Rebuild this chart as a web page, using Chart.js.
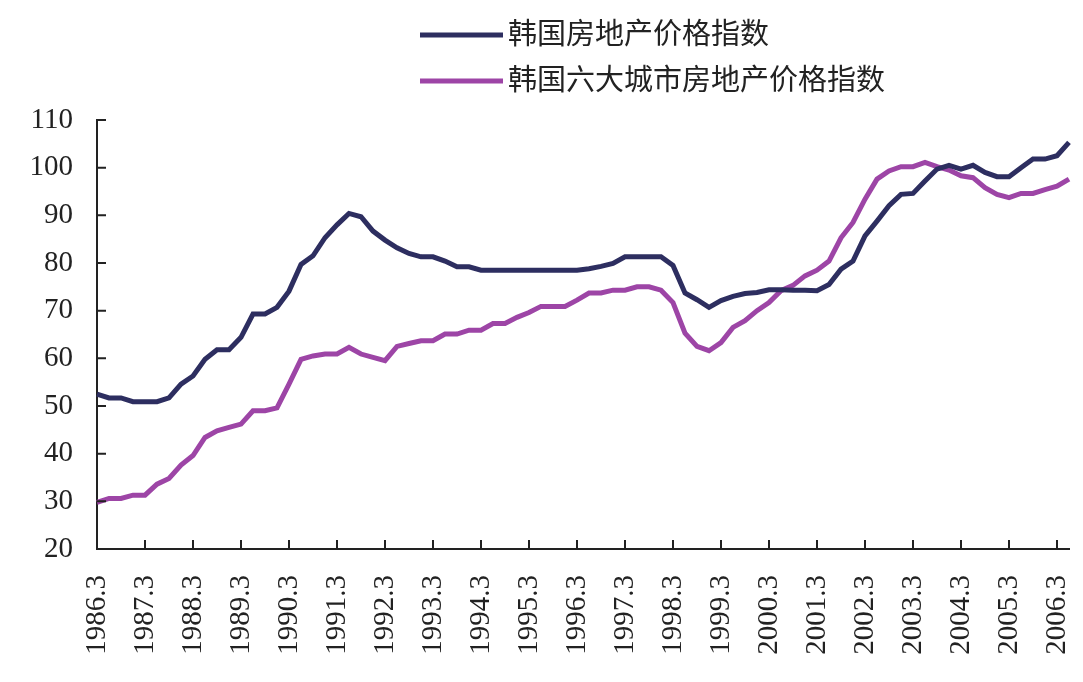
<!DOCTYPE html>
<html>
<head>
<meta charset="utf-8">
<script src="https://cdn.jsdelivr.net/npm/chart.js@4.4.0/dist/chart.umd.min.js"></script>
<style>
  html, body { margin: 0; padding: 0; background: #fff; }
  #wrap { width: 1083px; height: 682px; position: relative; }
</style>
</head>
<body>
<div id="wrap"><canvas id="lineChart"></canvas></div>
<script>
// quarterly labels 1986.3 ... 2006.6
const years = [];
for (let y = 1986; y <= 2006; y++) years.push(y);
const months = [3, 6, 9, 12];
const labels = [];
years.forEach(y => months.forEach(m => labels.push(y + '.' + m)));
labels.length = 82;

const seriesNames = ['韩国房地产价格指数', '韩国六大城市房地产价格指数'];

const koreaIndex = [
    52.5, 51.7, 51.7, 50.9, 50.9, 50.9, 51.7, 54.6, 56.3, 59.8,
    61.8, 61.8, 64.4, 69.3, 69.3, 70.7, 74.1, 79.7, 81.5, 85.3,
    88.0, 90.4, 89.7, 86.7, 84.8, 83.2, 82.0, 81.3, 81.3, 80.4,
    79.2, 79.2, 78.5, 78.5, 78.5, 78.5, 78.5, 78.5, 78.5, 78.5,
    78.5, 78.8, 79.3, 79.9, 81.3, 81.3, 81.3, 81.3, 79.5, 73.7,
    72.3, 70.7, 72.1, 73.0, 73.6, 73.8, 74.4, 74.4, 74.3, 74.3,
    74.2, 75.5, 78.7, 80.4, 85.7, 88.8, 92.0, 94.4, 94.6, 97.2,
    99.7, 100.5, 99.7, 100.5, 99.0, 98.1, 98.1, 100.0, 101.8, 101.8,
    102.5, 105.3
];

const sixCitiesIndex = [
    29.8, 30.6, 30.6, 31.3, 31.3, 33.6, 34.8, 37.6, 39.6, 43.4,
    44.8, 45.5, 46.2, 49.0, 49.0, 49.6, 54.6, 59.8, 60.5, 60.9,
    60.9, 62.3, 60.9, 60.2, 59.5, 62.5, 63.1, 63.7, 63.7, 65.1,
    65.1, 65.9, 65.9, 67.3, 67.3, 68.6, 69.6, 70.9, 70.9, 70.9,
    72.2, 73.7, 73.7, 74.3, 74.3, 75.0, 75.0, 74.3, 71.7, 65.3,
    62.5, 61.6, 63.3, 66.5, 67.9, 70.0, 71.7, 74.2, 75.3, 77.3,
    78.5, 80.4, 85.3, 88.5, 93.4, 97.6, 99.3, 100.2, 100.2, 101.1,
    100.2, 99.5, 98.3, 97.9, 95.8, 94.4, 93.7, 94.6, 94.6, 95.4,
    96.1, 97.6
];

const colors = ['#2d2e60', '#9d45a6'];
const tickFont = { family: "'Liberation Serif', 'Times New Roman', serif", size: 29 };

// inward tick marks on both axes
const innerTicks = {
    id: 'innerTicks',
    afterDraw(chart) {
        const ctx = chart.ctx, xs = chart.scales.x, ys = chart.scales.y;
        ctx.save();
        ctx.strokeStyle = '#222';
        ctx.lineWidth = 2;
        ctx.beginPath();
        ys.ticks.forEach((t, i) => {
            const py = ys.getPixelForTick(i);
            ctx.moveTo(xs.left, py);
            ctx.lineTo(xs.left + 9, py);
        });
        xs.ticks.forEach((t, i) => {
            if (i % 4 !== 0) return;
            const px = xs.getPixelForTick(i);
            ctx.moveTo(px, ys.bottom);
            ctx.lineTo(px, ys.bottom - 9);
        });
        ctx.stroke();
        ctx.restore();
    }
};

// two-row legend at top
const stackedLegend = {
    id: 'stackedLegend',
    afterDraw(chart) {
        const ctx = chart.ctx;
        ctx.save();
        ctx.font = "29px 'Liberation Serif', 'Noto Sans CJK SC', serif";
        ctx.textBaseline = 'middle';
        chart.data.datasets.forEach((ds, i) => {
            const y = 35 + i * 46;
            ctx.strokeStyle = ds.borderColor;
            ctx.lineWidth = 5;
            ctx.beginPath();
            ctx.moveTo(420, y);
            ctx.lineTo(503, y);
            ctx.stroke();
            ctx.fillStyle = '#222';
            ctx.fillText(ds.label, 508, y + 1);
        });
        ctx.restore();
    }
};

const ctx = document.getElementById('lineChart').getContext('2d');
new Chart(ctx, {
    type: 'line',
    data: {
        labels: labels,
        datasets: [{
            label: seriesNames[0],
            data: koreaIndex,
            borderColor: colors[0],
            borderWidth: 5,
            pointRadius: 0,
            fill: false
        }, {
            label: seriesNames[1],
            data: sixCitiesIndex,
            borderColor: colors[1],
            borderWidth: 5,
            pointRadius: 0,
            fill: false
        }]
    },
    options: {
        responsive: true,
        maintainAspectRatio: false,
        animation: false,
        layout: { padding: { top: 120, right: 14, left: 0, bottom: 0 } },
        plugins: {
            legend: { display: false },
            tooltip: { enabled: false }
        },
        scales: {
            x: {
                offset: false,
                grid: { display: false },
                border: { display: true, color: '#222', width: 2 },
                afterFit: s => { s.height = 133; s.paddingLeft = 0; s.paddingRight = 0; },
                ticks: {
                    autoSkip: false,
                    minRotation: 90,
                    maxRotation: 90,
                    padding: 18,
                    color: '#222',
                    font: tickFont,
                    callback: function (v, i) { return i % 4 === 0 ? this.getLabelForValue(v) : ''; }
                }
            },
            y: {
                min: 20,
                max: 110,
                grid: { display: false },
                border: { display: true, color: '#222', width: 2 },
                afterFit: s => { s.width = 97; },
                ticks: {
                    stepSize: 10,
                    padding: 16,
                    color: '#222',
                    font: tickFont
                }
            }
        }
    },
    plugins: [innerTicks, stackedLegend]
});
</script>
</body>
</html>
